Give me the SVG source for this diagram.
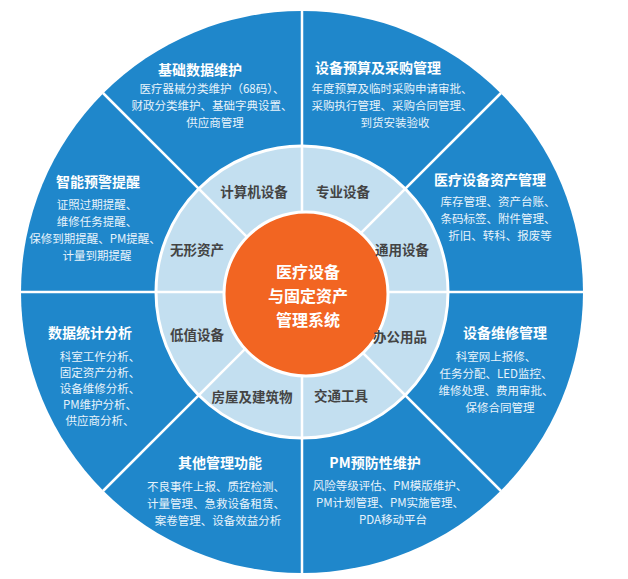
<svg xmlns="http://www.w3.org/2000/svg" width="628" height="579" viewBox="0 0 628 579">
<style>
.t{font-family:"Noto Sans CJK SC","Liberation Sans",sans-serif;fill:#fff;text-anchor:middle;font-weight:bold;font-size:14px}
.d{font-family:"Noto Sans CJK SC","Liberation Sans",sans-serif;fill:#e8f3fb;text-anchor:middle;font-size:11.5px}
.r{font-family:"Noto Sans CJK SC","Liberation Sans",sans-serif;fill:#444;text-anchor:middle;font-weight:bold;font-size:13.5px}
.c{font-family:"Noto Sans CJK SC","Liberation Sans",sans-serif;fill:#fff;text-anchor:middle;font-weight:bold;font-size:16px}
.sep{stroke:#fff;stroke-width:2.5}
</style>
<rect width="628" height="579" fill="#fff"/>
<circle cx="302" cy="292" r="281" fill="#1f87cb"/>
<circle cx="302" cy="292" r="146" fill="#c3dff0" stroke="#fff" stroke-width="3"/>
<g id="connectors">
<line class="sep" x1="302" y1="11" x2="302" y2="573"/>
<line class="sep" x1="21" y1="292" x2="583" y2="292"/>
<line class="sep" x1="103" y1="93" x2="501" y2="491"/>
<line class="sep" x1="501" y1="93" x2="103" y2="491"/>
</g>
<g id="center"><circle cx="306" cy="294" r="82" fill="#f26522" stroke="#fff" stroke-width="3"/>
<text class="c" x="308" y="278">医疗设备</text><text class="c" x="308" y="302">与固定资产</text><text class="c" x="308" y="326">管理系统</text></g>
<g id="inner">
<text class="r" x="254" y="197">计算机设备</text>
<text class="r" x="343" y="197">专业设备</text>
<text class="r" x="402" y="255">通用设备</text>
<text class="r" x="400" y="342">办公用品</text>
<text class="r" x="341" y="401">交通工具</text>
<text class="r" x="252" y="402">房屋及建筑物</text>
<text class="r" x="197" y="340">低值设备</text>
<text class="r" x="197" y="255">无形资产</text>
</g>
<g id="n1"><text class="t" x="200" y="75">基础数据维护</text>
<text class="d" x="212" y="93">医疗器械分类维护（68码）、</text><text class="d" x="212" y="110">财政分类维护、基础字典设置、</text><text class="d" x="215" y="127">供应商管理</text></g>
<g id="n2"><text class="t" x="378" y="73">设备预算及采购管理</text>
<text class="d" x="392" y="93">年度预算及临时采购申请审批、</text><text class="d" x="392" y="110">采购执行管理、采购合同管理、</text><text class="d" x="395" y="127">到货安装验收</text></g>
<g id="n3"><text class="t" x="490" y="185">医疗设备资产管理</text>
<text class="d" x="498" y="206">库存管理、资产台账、</text><text class="d" x="498" y="223">条码标签、附件管理、</text><text class="d" x="500" y="240">折旧、转科、报废等</text></g>
<g id="n4"><text class="t" x="505" y="338">设备维修管理</text>
<text class="d" x="496" y="361">科室网上报修、</text><text class="d" x="496" y="378">任务分配、LED监控、</text><text class="d" x="496" y="395">维修处理、费用审批、</text><text class="d" x="500" y="412">保修合同管理</text></g>
<g id="n5"><text class="t" x="375" y="468">PM预防性维护</text>
<text class="d" x="390" y="490">风险等级评估、PM模版维护、</text><text class="d" x="390" y="507">PM计划管理、PM实施管理、</text><text class="d" x="393" y="524">PDA移动平台</text></g>
<g id="n6"><text class="t" x="220" y="468">其他管理功能</text>
<text class="d" x="216" y="491">不良事件上报、质控检测、</text><text class="d" x="216" y="508">计量管理、急救设备租赁、</text><text class="d" x="218" y="525">案卷管理、设备效益分析</text></g>
<g id="n7"><text class="t" x="90" y="338">数据统计分析</text>
<text class="d" x="100" y="361">科室工作分析、</text><text class="d" x="100" y="377">固定资产分析、</text><text class="d" x="100" y="393">设备维修分析、</text><text class="d" x="100" y="409">PM维护分析、</text><text class="d" x="100" y="425">供应商分析、</text></g>
<g id="n8"><text class="t" x="98" y="187">智能预警提醒</text>
<text class="d" x="97" y="209">证照过期提醒、</text><text class="d" x="97" y="226">维修任务提醒、</text><text class="d" x="95" y="243">保修到期提醒、PM提醒、</text><text class="d" x="97" y="260">计量到期提醒</text></g>
</svg>
